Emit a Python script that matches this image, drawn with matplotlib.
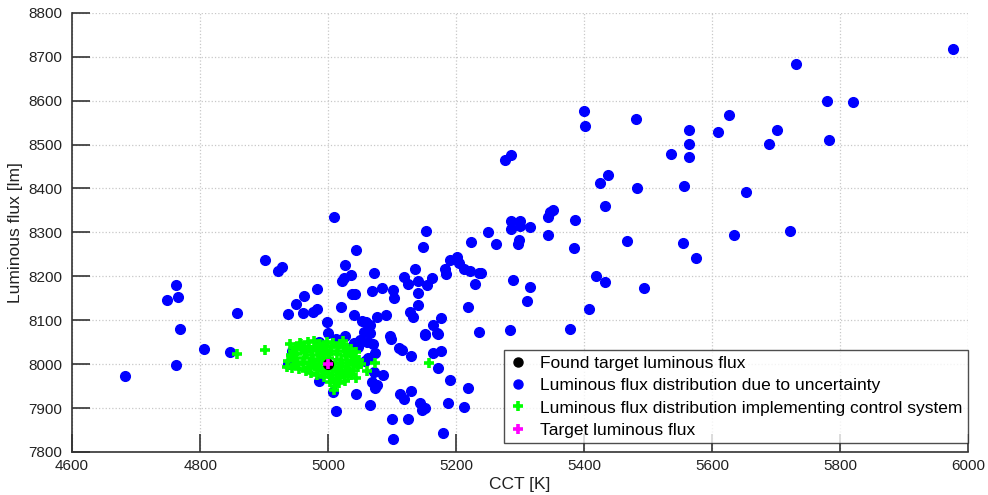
import matplotlib
matplotlib.use("Agg")
import matplotlib.pyplot as plt
from matplotlib.lines import Line2D

plt.rcParams['font.family'] = ['Liberation Sans', 'DejaVu Sans']

# Blue: luminous flux distribution due to uncertainty
blue_cct = [
    5976, 5731, 5779, 5820, 5399, 5401, 5481, 5626, 5564, 5609, 5702, 5564, 5689, 5783,
    5536, 5564, 5286, 5276, 5437, 5424, 5483, 5556, 5653, 5432, 5352, 5347, 5343, 5386,
    5285, 5300, 5300, 5315, 5285, 5249, 5344, 5262, 5298, 5297, 5384, 5467, 5554, 5634,
    5721, 5575, 5239, 5289, 5316, 5310, 5418, 5432, 5493, 5407, 5284, 5378,
    5009, 5153, 5148, 5043, 5223, 4902, 4928, 4922, 5027, 5035, 5025, 5021, 5071, 4983,
    4963, 4949, 4938, 4960, 4976, 4983, 4857, 5020, 5038, 5042, 5040, 5069, 5084, 5101,
    5103, 5077, 5090, 5053, 5059, 5066, 5056, 5066, 4998, 5136, 5119, 5124, 5140, 5155,
    5163, 5141, 5141, 5128, 5132, 5183, 5184, 5191, 5202, 5205, 5213, 5221, 5236, 5230,
    5218, 5235, 5177, 5164, 5170, 5152, 5097, 5098, 5110, 5116, 5130, 5164, 5177, 5172,
    5190, 5218, 5187, 5212, 5180, 5086, 5077, 5073, 5069, 5071, 5112, 5118, 5129, 5144,
    5147, 5152, 5066, 5044, 5100, 5125, 5101, 5012, 5008, 4986, 4938, 4944, 5000, 5027,
    5040, 5046, 5070, 5073, 5062, 5058, 5035, 4847, 4985, 5050, 5060, 5012, 5171, 5151,
    4682, 4762, 4762, 4748, 4765, 4769, 4806,
]
blue_flux = [
    8718, 8684, 8600, 8596, 8576, 8542, 8558, 8568, 8533, 8529, 8533, 8502, 8502, 8511,
    8479, 8472, 8477, 8465, 8431, 8412, 8402, 8405, 8392, 8359, 8351, 8346, 8335, 8328,
    8325, 8326, 8315, 8313, 8308, 8300, 8294, 8274, 8282, 8274, 8265, 8281, 8276, 8294,
    8303, 8241, 8207, 8192, 8175, 8144, 8201, 8188, 8173, 8125, 8078, 8080,
    8334, 8303, 8266, 8259, 8278, 8238, 8222, 8211, 8225, 8203, 8196, 8190, 8208, 8171,
    8156, 8136, 8115, 8117, 8118, 8125, 8117, 8129, 8159, 8159, 8111, 8167, 8173, 8168,
    8151, 8108, 8113, 8099, 8095, 8088, 8073, 8070, 8095, 8217, 8199, 8183, 8189, 8180,
    8196, 8162, 8135, 8118, 8108, 8216, 8205, 8237, 8243, 8230, 8217, 8213, 8207, 8182,
    8129, 8073, 8106, 8089, 8070, 8066, 8063, 8057, 8037, 8032, 8018, 8026, 8029, 7991,
    7963, 7946, 7911, 7902, 7844, 7976, 7952, 7945, 7959, 7981, 7932, 7921, 7938, 7911,
    7896, 7899, 7906, 7932, 7876, 7875, 7830, 7894, 7937, 7962, 8001, 8031, 8070, 8063,
    8048, 8040, 8045, 8026, 8013, 8007, 8040, 8028, 8051, 8055, 8050, 8058, 8068, 8068,
    7972, 7997, 8180, 8147, 8152, 8080, 8035,
]

# Green: luminous flux distribution implementing control system
green_cct = [
    4857, 4901, 5158, 5073, 5061, 5046, 5044, 5009, 5017, 4941, 4956, 4936, 4938, 4950,
    4945, 4952, 4958, 4962, 4966, 4970, 4972, 4975, 4978, 4980, 4983, 4985, 4988, 4990,
    4992, 4995, 4997, 5000, 5002, 5004, 5006, 5008, 5010, 5012, 5014, 5016, 5018, 5020,
    5022, 5024, 5026, 5028, 5030, 5032, 5034, 5036, 5038, 5040, 5042, 4948, 4955, 4960,
    4965, 4968, 4973, 4977, 4982, 4987, 4993, 4998, 5003, 5007, 5011, 5013, 5019, 5021,
    5025, 5027, 5031, 5035, 5039, 5043, 5048, 5052, 4942, 4946, 4944, 4951, 4957, 4963,
    4969, 4974, 4979, 4984, 4989, 4994, 4999, 5001, 5005, 5015, 5023, 5029, 5033, 5037,
    5041,
]
green_flux = [
    8022, 8033, 8003, 8002, 7985, 7993, 7968, 7941, 7957, 8045, 8048, 7994, 8008, 8040,
    8030, 8022, 8035, 8015, 8028, 8040, 8005, 8020, 8052, 7995, 8033, 8012, 8045, 7985,
    8025, 8005, 8038, 7990, 8015, 8030, 7975, 8048, 8002, 7985, 8022, 8040, 7970, 8010,
    7995, 8030, 7982, 8018, 8003, 7990, 8025, 7975, 8010, 7998, 8015, 7998, 7990, 8000,
    7985, 8050, 7980, 8008, 7975, 8000, 7970, 8050, 7960, 7965, 7950, 7960, 8045, 7978,
    8044, 7962, 7972, 8035, 7985, 8028, 8010, 8000, 8020, 8012, 7992, 8004, 8045, 8038,
    7992, 8030, 8040, 7990, 8018, 8042, 8022, 7978, 8040, 7992, 8052, 8036, 7980, 8022,
    8005,
]

found_cct = [5000]
found_flux = [8000]
target_cct = [5000]
target_flux = [8000]

x_ticks = [4600, 4800, 5000, 5200, 5400, 5600, 5800, 6000]
y_ticks = [7800, 7900, 8000, 8100, 8200, 8300, 8400, 8500, 8600, 8700, 8800]

fig = plt.figure(figsize=(9.88, 4.95), dpi=100)
ax = fig.add_axes([0.073, 0.087, 0.907, 0.887])

ax.plot(found_cct, found_flux, 'o', color='black', markersize=7, linestyle='none', zorder=5)
ax.plot(blue_cct, blue_flux, 'o', color='#0000ff', markersize=7, linestyle='none', zorder=3)
ax.plot(green_cct, green_flux, '+', color='#00ff00', markersize=7.5, markeredgewidth=2.6,
        linestyle='none', zorder=4)
ax.plot(target_cct, target_flux, '+', color='#ff00ff', markersize=7.5, markeredgewidth=2.6,
        linestyle='none', zorder=6)

ax.set_xlim(4600, 6000)
ax.set_ylim(7800, 8800)
ax.set_xticks(x_ticks)
ax.set_yticks(y_ticks)
ax.tick_params(direction='in', length=13, width=1.2, color='#333333', labelsize=11,
               labelcolor='#222222')
ax.tick_params(axis='y', pad=7)
ax.tick_params(axis='x', pad=5)
ax.grid(True, linestyle=':', color='#c8c8c8', linewidth=0.9)
ax.set_axisbelow(True)
for s in ['top', 'right']:
    ax.spines[s].set_visible(False)
for s in ['left', 'bottom']:
    ax.spines[s].set_color('#333333')
    ax.spines[s].set_linewidth(1.2)

ax.set_xlabel('CCT [K]', fontsize=12.5, color='#222222', labelpad=3)
ax.set_ylabel('Luminous flux [lm]', fontsize=12.5, color='#222222', labelpad=4)

handles = [
    Line2D([], [], marker='o', color='black', linestyle='none', markersize=6.5),
    Line2D([], [], marker='o', color='#0000ff', linestyle='none', markersize=6.5),
    Line2D([], [], marker='+', color='#00ff00', linestyle='none', markersize=7, markeredgewidth=2.6),
    Line2D([], [], marker='+', color='#ff00ff', linestyle='none', markersize=7, markeredgewidth=2.6),
]
labels = [
    'Found target luminous flux',
    'Luminous flux distribution due to uncertainty',
    'Luminous flux distribution implementing control system',
    'Target luminous flux',
]
leg = ax.legend(handles, labels, loc='lower right', bbox_to_anchor=(0.9995, 0.02),
                fontsize=12.5, frameon=True, fancybox=False, handlelength=1.0,
                handletextpad=0.8, borderpad=0.3, labelspacing=0.42, borderaxespad=0)
leg.get_frame().set_edgecolor('#222222')
leg.get_frame().set_linewidth(1.0)
leg.set_zorder(10)

fig.savefig('out.png', dpi=100)
